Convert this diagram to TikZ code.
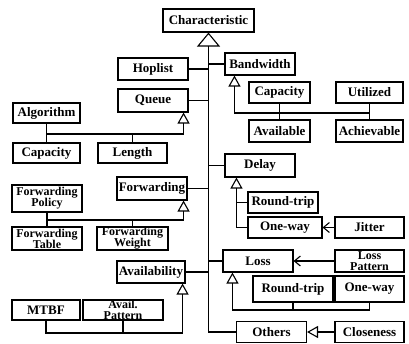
\documentclass[tikz,border=0pt]{standalone}
\usepackage{fontspec}
\setmainfont{Liberation Serif}
\usetikzlibrary{arrows.meta}

\tikzset{
  box/.style={draw, line width=1.1pt, fill=white, inner sep=0pt, minimum height=21pt,
    font=\bfseries\fontsize{13}{13}\selectfont},
  twoline/.style={box, align=center, font=\bfseries\fontsize{12}{11}\selectfont},
  link/.style={line width=1.1pt},
  bigtri/.style={link, -{Triangle[open, width=23pt, length=14pt, line width=1.1pt]}},
  tri/.style={link, -{Triangle[open, width=12pt, length=11pt, line width=1.1pt]}},
  dep/.style={link, -{Straight Barb[width=10pt, length=6pt, line width=1.1pt]}}
}

\begin{document}
\begin{tikzpicture}[x=1pt, y=-1pt]
\useasboundingbox (0,0) rectangle (409,343);

% root and trunk
\node[box, minimum width=91pt, minimum height=23pt] (char) at (208.5,20.5) {Characteristic};
\node[box, minimum width=70pt] (oth) at (271.5,332) {Others};
\node[box, minimum width=69pt] (clos) at (369.5,332) {Closeness};
\draw[bigtri] (oth.west) -| (char.south);
\draw[tri] (clos.west) -- (oth.east);

% left branches
\node[box, minimum width=70pt, minimum height=22pt] (hop) at (153,69) {Hoplist};
\node[box, minimum width=70pt, minimum height=23pt] (queue) at (153,100.5) {Queue};
\node[box, minimum width=67pt, minimum height=20pt] (algo) at (46.5,113) {Algorithm};
\node[box, minimum width=67pt, minimum height=20pt] (qcap) at (46.5,153) {Capacity};
\node[box, minimum width=69pt, minimum height=20pt] (len) at (132.5,153) {Length};
\node[box, minimum width=70pt, minimum height=23pt] (fwd) at (152,188.5) {Forwarding};
\node[twoline, minimum width=70pt, minimum height=27pt] (fpol) at (47,198.5) {Forwarding\\Policy};
\node[twoline, minimum width=70pt, minimum height=23pt] (ftab) at (47,238.5) {Forwarding\\Table};
\node[twoline, minimum width=71pt, minimum height=23pt] (fwei) at (132.5,238.5) {Forwarding\\Weight};
\node[box, minimum width=68pt, minimum height=22pt] (avl) at (151,272) {Availability};
\node[box, minimum width=68pt, minimum height=20pt] (mtbf) at (46,310) {MTBF};
\node[twoline, minimum width=80pt, minimum height=20pt] (apat) at (123,310) {Avail.\\Pattern};

\foreach \n in {hop,queue,fwd,avl}
  \draw[link] (\n.east) -- (\n.east -| char.south);

\coordinate (qbus) at (0,134);
\draw[link] (algo.south) -- (qcap.north);
\draw[link] (len.north) -- (len.north |- qbus);
\draw[tri] (algo.south |- qbus) -| ([xshift=-5pt]queue.south east);

\coordinate (fbus) at (0,220);
\draw[link] (fpol.south) -- (ftab.north);
\draw[link] (fwei.north) -- (fwei.north |- fbus);
\draw[tri] (fpol.south |- fbus) -| ([xshift=-4pt]fwd.south east);

\coordinate (abus) at (0,333);
\draw[link] (apat.south) -- (apat.south |- abus);
\draw[tri] (mtbf.south) -- (mtbf.south |- abus) -| ([xshift=-3pt]avl.south east);

% right branches
\node[box, minimum width=70pt, minimum height=22pt] (bw) at (260,64) {Bandwidth};
\node[box, minimum width=61pt] (bcap) at (279.5,92.5) {Capacity};
\node[box, minimum width=67pt] (util) at (369.5,92.5) {Utilized};
\node[box, minimum width=61pt, minimum height=22pt] (avail) at (279.5,131) {Available};
\node[box, minimum width=67pt, minimum height=22pt] (achv) at (369.5,131) {Achievable};
\node[box, minimum width=70pt, minimum height=23pt] (delay) at (260,165.5) {Delay};
\node[box, minimum width=70pt] (drt) at (283,202.5) {Round-trip};
\node[box, minimum width=74pt] (dow) at (285,227.5) {One-way};
\node[box, minimum width=69pt] (jit) at (369.5,227.5) {Jitter};
\node[box, minimum width=70pt, minimum height=22pt] (loss) at (258,261) {Loss};
\node[twoline, minimum width=69pt, minimum height=22pt] (lpat) at (369.5,261) {Loss\\Pattern};
\node[box, minimum width=80pt, minimum height=26pt] (lrt) at (293,289) {Round-trip};
\node[box, minimum width=69pt, minimum height=26pt] (low) at (369.5,289) {One-way};

\foreach \n in {bw,delay,loss}
  \draw[link] (\n.west) -- (\n.west -| char.south);

\coordinate (bbus) at (0,113);
\draw[link] (bcap.south) -- (avail.north);
\draw[link] (util.south) -- (achv.north);
\draw[tri] (achv.north |- bbus) -| ([xshift=10pt]bw.south west);

\coordinate (dtop) at ([xshift=12pt]delay.south west);
\draw[tri] (dow.west) -| (dtop);
\draw[link] (drt.west) -- (drt.west -| dtop);
\draw[dep] (jit.west) -- (dow.east);

\coordinate (lbus) at (0,310);
\draw[link] (lrt.south) -- (lrt.south |- lbus);
\draw[tri] (low.south) -- (low.south |- lbus) -| ([xshift=10pt]loss.south west);
\draw[dep] (lpat.west) -- (loss.east);
\end{tikzpicture}
\end{document}
